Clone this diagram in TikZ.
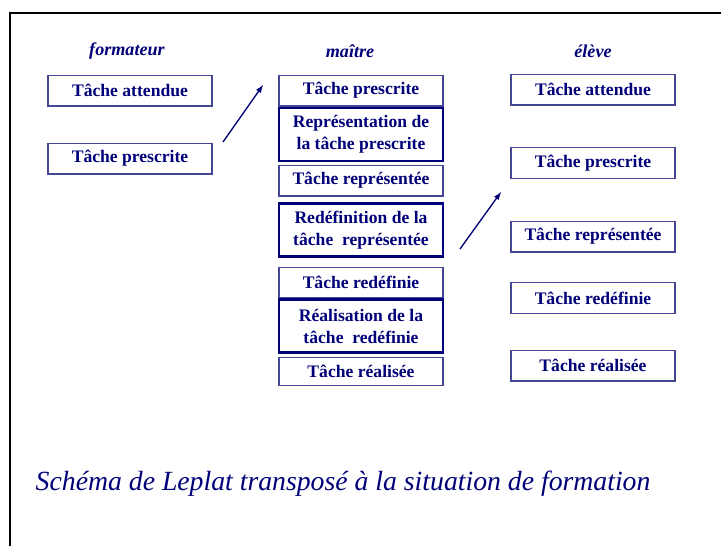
\documentclass[tikz,border=0pt]{standalone}
\usepackage{fontspec}
\setmainfont{Liberation Serif}
\definecolor{navy}{RGB}{0,0,120}
\definecolor{edge}{RGB}{70,70,150}
\begin{document}
\begin{tikzpicture}[x=0.75pt,y=-0.75pt]
	\tikzstyle{rect1} = [rectangle,draw=edge,line width=1pt,minimum width=123pt,
	inner sep=1pt,minimum height=23pt,text centered,text=navy,font=\fontsize{13.2}{16.5}\selectfont\bfseries]
	\tikzstyle{rect2} = [rect1,draw=navy,line width=1.8pt,minimum height=39.5pt,align=center]
	\tikzstyle{head} = [text=navy,font=\fontsize{13.6}{16}\selectfont\bfseries\itshape]
	\useasboundingbox (0,0) rectangle (721,546);
	\draw[line width=1.5pt] (10,546) -- (10,13) -- (721,13);
	% titres des colonnes
	\node (h1) [head] at (127,51) {formateur};
	\node (h2) [head] at (350,51) {maître};
	\node (h3) [head] at (593,51) {élève};
	% formateur
	\node (node1) [rect1] at (130,90.5) {Tâche attendue};
	\node (node2) [rect1] at (130,158.5) {Tâche prescrite};
	% maitre
	\node (node3) [rect1] at (361,90.5) {Tâche prescrite};
	\node (node4) [rect2] at (361,134.5) {Représentation de\\la tâche prescrite};
	\node (node5) [rect1] at (361,180.5) {Tâche représentée};
	\node (node6) [rect2] at (361,230) {Redéfinition de la\\tâche\ \ représentée};
	\node (node7) [rect1] at (361,282.5) {Tâche redéfinie};
	\node (node8) [rect2] at (361,326) {Réalisation de la\\tâche\ \ redéfinie};
	\node (node9) [rect1,minimum height=21pt] at (361,371.5) {Tâche réalisée};
	% eleve
	\node (node10) [rect1] at (593,89.5) {Tâche attendue};
	\node (node11) [rect1] at (593,163) {Tâche prescrite};
	\node (node12) [rect1] at (593,236.5) {Tâche représentée};
	\node (node13) [rect1] at (593,298) {Tâche redéfinie};
	\node (node14) [rect1] at (593,365.5) {Tâche réalisée};
	% fleches
	\coordinate (a1) at (223,142);
	\coordinate (b1) at (263,85);
	\coordinate (a2) at (460,249);
	\coordinate (b2) at (501,192);
	\draw[->,>=latex,navy,line width=1pt] (a1) -- (b1);
	\draw[->,>=latex,navy,line width=1pt] (a2) -- (b2);
	\node (legende) [anchor=west,text=navy,font=\fontsize{20.8}{24}\selectfont\itshape] at (31,484) {Schéma de Leplat transposé à la situation de formation};
\end{tikzpicture}
\end{document}
